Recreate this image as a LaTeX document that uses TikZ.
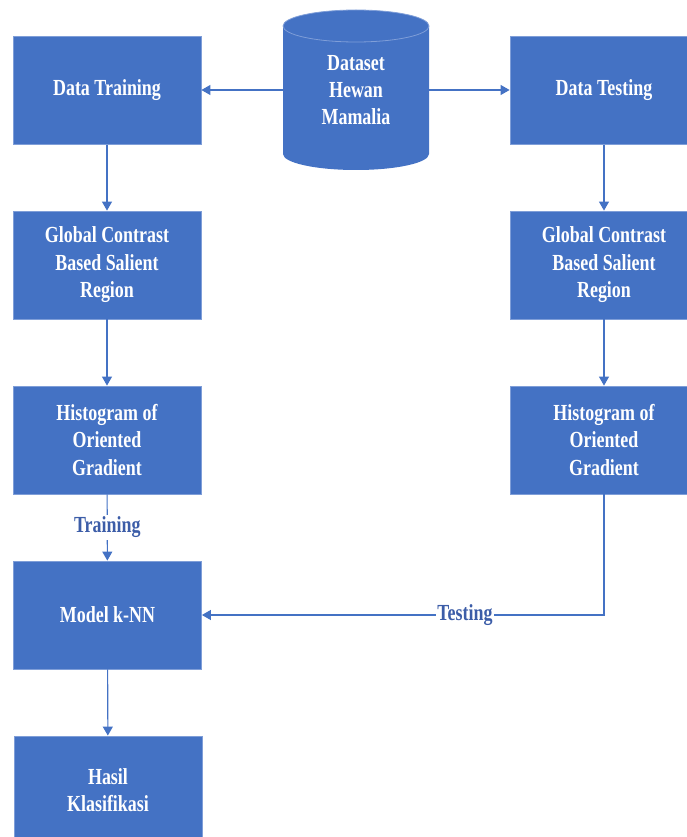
\documentclass[tikz,border=0pt]{standalone}
\usepackage{fontspec}
\setmainfont{Liberation Serif}[FakeStretch=0.78]
\usetikzlibrary{arrows.meta}
\definecolor{boxblue}{HTML}{4472C4}
\definecolor{edgeblue}{HTML}{7F9ED8}
\definecolor{lblblue}{HTML}{3C5DA8}
\tikzset{
  box/.style={rectangle, fill=boxblue, draw=edgeblue, line width=0.8pt,
    minimum width=188pt, minimum height=108pt, text=white, align=center,
    font=\fontsize{23}{27.5}\selectfont\bfseries, inner sep=0pt},
  conn/.style={draw=boxblue, line width=1.1pt, -{Triangle[length=9pt,width=10pt]}},
  lbl/.style={fill=white, text=lblblue, font=\fontsize{23}{27}\selectfont\bfseries, inner sep=1.5pt}
}
\begin{document}
\begin{tikzpicture}[x=1pt,y=-1pt]
\useasboundingbox (0,0) rectangle (686,837);
% cylinder
\fill[boxblue] (283,26) -- (283,154) arc[start angle=180,end angle=0,x radius=73,y radius=16] -- (429,26) arc[start angle=0,end angle=-180,x radius=73,y radius=16] -- cycle;
\draw[edgeblue, line width=0.8pt] (356,26) ellipse[x radius=73, y radius=16];
\node[rectangle, minimum width=146pt, minimum height=108pt, text=white, align=center,
  font=\fontsize{23}{27}\selectfont\bfseries, inner sep=0pt] (ds) at (356,90) {Dataset\\Hewan\\Mamalia};
\coordinate (dsw) at (283,90);
\coordinate (dse) at (429,90);
% left column
\node[box] (dtr) at (107,90.5) {Data Training};
\node[box] (gl) at (107,265) {Global Contrast\\Based Salient\\Region};
\node[box] (hl) at (107,440) {Histogram of\\Oriented\\Gradient};
\node[box] (knn) at (107.5,615) {Model k-NN};
\node[box] (has) at (108,790) {Hasil\\Klasifikasi};
% right column
\node[box] (dte) at (604,90.5) {Data Testing};
\node[box] (gr) at (604,265) {Global Contrast\\Based Salient\\Region};
\node[box] (hr) at (604,440) {Histogram of\\Oriented\\Gradient};
% connectors
\draw[conn] (dsw) -- (dtr.east |- dsw);
\draw[conn] (dse) -- (dte.west |- dse);
\draw[conn] (dtr) -- (gl);
\draw[conn] (gl) -- (hl);
\draw[conn] (hl) -- node[lbl, pos=0.5] {Training} (knn);
\draw[conn] (knn) -- (has);
\draw[conn] (dte) -- (gr);
\draw[conn] (gr) -- (hr);
\draw[conn] (hr.south) |- node[lbl, pos=0.673] {Testing} (knn.east);
\end{tikzpicture}
\end{document}
